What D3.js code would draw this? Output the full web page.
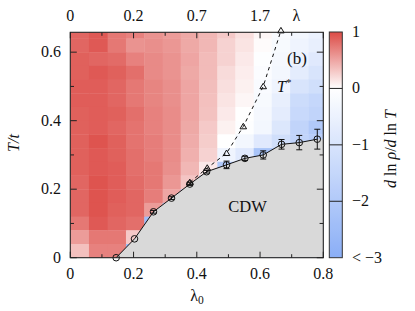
<!DOCTYPE html>
<html><head><meta charset="utf-8">
<script src="https://cdn.jsdelivr.net/npm/d3@7"></script>
<style>
html,body{margin:0;padding:0;background:#fff;}
svg{display:block;}
</style></head>
<body><svg id="c" width="415" height="311"></svg>
<script>
// ---------- data ----------
const lambda0Edges = [0, 0.059, 0.118, 0.176, 0.234, 0.292, 0.349, 0.407, 0.465, 0.522, 0.580, 0.637, 0.695, 0.753, 0.8];
// T bins listed from top to bottom
const tBinsTop = [0.658, 0.64, 0.60, 0.56, 0.52, 0.48, 0.44, 0.40, 0.36, 0.32, 0.28, 0.24, 0.20, 0.16, 0.12, 0.08, 0.04];
const tBinsBottom = [0.64, 0.60, 0.56, 0.52, 0.48, 0.44, 0.40, 0.36, 0.32, 0.28, 0.24, 0.20, 0.16, 0.12, 0.08, 0.04, 0.0];
const heatRows = [
  [0.85, 0.92, 0.75, 0.70, 0.60, 0.55, 0.48, 0.40, 0.30, 0.18, 0.05, -0.15, -0.30, -0.50],
  [0.85, 0.92, 0.75, 0.60, 0.62, 0.58, 0.48, 0.40, 0.25, 0.15, 0.02, -0.20, -0.40, -0.60],
  [0.88, 0.85, 0.82, 0.70, 0.65, 0.60, 0.50, 0.38, 0.25, 0.12, -0.05, -0.25, -0.50, -0.80],
  [0.88, 0.92, 0.88, 0.80, 0.65, 0.60, 0.48, 0.38, 0.20, 0.10, -0.10, -0.30, -0.70, -1.00],
  [0.90, 0.90, 0.85, 0.75, 0.68, 0.62, 0.50, 0.36, 0.18, 0.08, -0.15, -0.40, -1.00, -1.20],
  [0.90, 0.90, 0.85, 0.75, 0.68, 0.62, 0.50, 0.35, 0.15, 0.05, -0.20, -0.60, -1.30, -1.50],
  [0.88, 0.90, 0.88, 0.80, 0.70, 0.64, 0.50, 0.34, 0.12, 0.00, -0.25, -0.70, -1.40, -1.60],
  [0.88, 0.90, 0.85, 0.78, 0.70, 0.64, 0.48, 0.30, 0.08, -0.05, -0.30, -0.90, -1.60, -2.00],
  [0.88, 0.95, 0.88, 0.78, 0.72, 0.64, 0.46, 0.28, 0.00, -0.30, -0.80, -1.20, -1.60, -1.80],
  [0.88, 0.92, 0.88, 0.80, 0.72, 0.64, 0.44, 0.25, -0.40, -0.80, -2.20, -2.00, -2.00, -2.20],
  [0.88, 0.92, 0.90, 0.80, 0.75, 0.62, 0.40, 0.12, -2.00, -2.00, -2.20, -2.20, -2.20, -2.20],
  [0.85, 0.95, 0.90, 0.82, 0.75, 0.58, 0.32, -1.50, -2.00, -2.00, -2.00, -2.00, -2.00, -2.00],
  [0.85, 0.95, 0.90, 0.85, 0.72, 0.50, -2.00, -2.00, -2.00, -2.00, -2.00, -2.00, -2.00, -2.00],
  [0.85, 0.95, 0.88, 0.85, 0.55, -2.00, -2.00, -2.00, -2.00, -2.00, -2.00, -2.00, -2.00, -2.00],
  [0.75, 0.92, 0.85, 0.80, -2.50, -2.50, -2.50, -2.50, -2.50, -2.50, -2.50, -2.50, -2.50, -2.50],
  [0.55, 0.75, 0.75, 0.30, -2.50, -2.50, -2.50, -2.50, -2.50, -2.50, -2.50, -2.50, -2.50, -2.50],
  [0.35, 0.70, 0.70, -2.50, -2.50, -2.50, -2.50, -2.50, -2.50, -2.50, -2.50, -2.50, -2.50, -2.50]
];
// CDW transition (circles with error bars)
const tcLambda0 = [0.145, 0.203, 0.263, 0.320, 0.378, 0.431, 0.494, 0.552, 0.610, 0.668, 0.724, 0.781];
const tcT       = [0.000, 0.055, 0.134, 0.174, 0.215, 0.251, 0.271, 0.290, 0.300, 0.331, 0.336, 0.346];
const tcErr     = [0.000, 0.003, 0.004, 0.004, 0.004, 0.004, 0.011, 0.006, 0.012, 0.014, 0.021, 0.029];
// T* crossover (triangles)
const tsLambda0 = [0.378, 0.433, 0.494, 0.547, 0.610, 0.666];
const tsT       = [0.220, 0.262, 0.305, 0.383, 0.500, 0.663];
// ticks
const xTicksMajor = [0, 0.2, 0.4, 0.6, 0.8];
const xTicksMinor = [0.1, 0.3, 0.5, 0.7];
const yTicksMajor = [0, 0.2, 0.4, 0.6];
const yTicksMinor = [0.1, 0.3, 0.5];
const topTickPos = [0, 0.2, 0.4, 0.6];
const topTickLabels = ["0", "0.2", "0.7", "1.7"];
const cbTicks = [1, 0, -1, -2, -3];
const cbTickLabels = ["1", "0", "\u22121", "\u22122", "< \u22123"];

// ---------- drawing ----------
const FONT = "Liberation Serif";
const svg = d3.select("#c");
const L = 70.3, R = 323.3, T0 = 32.3, B = 257.7;
const x = d3.scaleLinear().domain([0, 0.8]).range([L, R]);
const y = d3.scaleLinear().domain([0, 0.658]).range([B, T0]);
const red = d3.interpolateRgb("#ffffff", "#dc4b46");
const blue = d3.interpolateRgb("#ffffff", "#8aaef6");
const color = v => v >= 0 ? red(Math.min(v, 1)) : blue(Math.min(-v / 3, 1));

svg.append("defs").append("clipPath").attr("id", "clip")
  .append("rect").attr("x", L).attr("y", T0).attr("width", R - L).attr("height", B - T0);

const cells = [];
heatRows.forEach((row, ri) => row.forEach((v, ci) => cells.push({
  x0: lambda0Edges[ci], x1: lambda0Edges[ci + 1], t0: tBinsBottom[ri], t1: tBinsTop[ri], v
})));
const gHeat = svg.append("g").attr("clip-path", "url(#clip)");
gHeat.selectAll("rect").data(cells).join("rect")
  .attr("x", d => x(d.x0)).attr("y", d => y(d.t1))
  .attr("width", d => x(d.x1) - x(d.x0) + 0.4).attr("height", d => y(d.t0) - y(d.t1) + 0.4)
  .attr("fill", d => color(d.v));

// CDW region
const tcPts = tcLambda0.map((l, i) => [l, tcT[i]]);
const poly = [[tcLambda0[0], 0], ...tcPts, [0.8, tcT[tcT.length - 1]], [0.8, 0]];
gHeat.append("path")
  .attr("d", d3.line().x(d => x(d[0])).y(d => y(d[1]))(poly) + "Z")
  .attr("fill", "#d9d9d9");

// solid line
gHeat.append("path").attr("d", d3.line().x(d => x(d[0])).y(d => y(d[1]))(tcPts))
  .attr("fill", "none").attr("stroke", "#111").attr("stroke-width", 1);

// error bars
const gErr = svg.append("g").attr("stroke", "#111").attr("stroke-width", 1);
tcPts.forEach((p, i) => {
  const e = tcErr[i];
  if (e <= 0.003) return;
  const cx = x(p[0]), y1 = y(p[1] - e), y2 = y(p[1] + e);
  gErr.append("line").attr("x1", cx).attr("x2", cx).attr("y1", y1).attr("y2", y2);
  gErr.append("line").attr("x1", cx - 3).attr("x2", cx + 3).attr("y1", y1).attr("y2", y1);
  gErr.append("line").attr("x1", cx - 3).attr("x2", cx + 3).attr("y1", y2).attr("y2", y2);
});
// circles
svg.append("g").selectAll("circle").data(tcPts).join("circle")
  .attr("cx", d => x(d[0])).attr("cy", d => y(d[1])).attr("r", 3.3)
  .attr("fill", "none").attr("stroke", "#111").attr("stroke-width", 1);

// dashed T* line
const tsPts = tsLambda0.map((l, i) => [l, tsT[i]]);
svg.append("path").attr("d", d3.line().x(d => x(d[0])).y(d => y(d[1]))(tsPts))
  .attr("fill", "none").attr("stroke", "#111").attr("stroke-width", 1).attr("stroke-dasharray", "3.5,3.5");
svg.append("g").selectAll("path").data(tsPts).join("path")
  .attr("d", d => {
    const cx = x(d[0]), cy = y(d[1]);
    return `M${cx - 3.3},${cy + 2.3}L${cx + 3.3},${cy + 2.3}L${cx},${cy - 3.2}Z`;
  })
  .attr("fill", "none").attr("stroke", "#111").attr("stroke-width", 1);

// frame
svg.append("rect").attr("x", L).attr("y", T0).attr("width", R - L).attr("height", B - T0)
  .attr("fill", "none").attr("stroke", "#222").attr("stroke-width", 1.1);

// ticks (inward)
const gT = svg.append("g").attr("stroke", "#222").attr("stroke-width", 1);
xTicksMajor.forEach(v => {
  gT.append("line").attr("x1", x(v)).attr("x2", x(v)).attr("y1", B).attr("y2", B - 6);
  gT.append("line").attr("x1", x(v)).attr("x2", x(v)).attr("y1", T0).attr("y2", T0 + 6);
});
xTicksMinor.forEach(v => {
  gT.append("line").attr("x1", x(v)).attr("x2", x(v)).attr("y1", B).attr("y2", B - 3.5);
  gT.append("line").attr("x1", x(v)).attr("x2", x(v)).attr("y1", T0).attr("y2", T0 + 3.5);
});
yTicksMajor.forEach(v => {
  gT.append("line").attr("x1", L).attr("x2", L + 6.5).attr("y1", y(v)).attr("y2", y(v));
  gT.append("line").attr("x1", R).attr("x2", R - 6.5).attr("y1", y(v)).attr("y2", y(v));
});
yTicksMinor.forEach(v => {
  gT.append("line").attr("x1", L).attr("x2", L + 3.7).attr("y1", y(v)).attr("y2", y(v));
  gT.append("line").attr("x1", R).attr("x2", R - 3.7).attr("y1", y(v)).attr("y2", y(v));
});

const fs = 16;
const txt = (s, xx, yy, anchor) => svg.append("text").attr("x", xx).attr("y", yy)
  .attr("font-family", FONT)
  .attr("text-anchor", anchor || "middle").attr("font-size", fs).attr("fill", "#111").text(s);

xTicksMajor.forEach(v => txt(String(v), x(v), 278.5));
yTicksMajor.forEach(v => txt(String(v), 61, y(v) + 5.3, "end"));
topTickPos.forEach((v, i) => txt(topTickLabels[i], x(v), 21.2));

// top axis label lambda
txt("\u03bb", x(0.715), 21.2);
// bottom axis label lambda_0
const xl = svg.append("text").attr("x", 197).attr("y", 301).attr("text-anchor", "middle")
  .attr("font-family", FONT).attr("font-size", fs).attr("fill", "#111");
xl.append("tspan").text("\u03bb");
xl.append("tspan").attr("font-size", 11.5).attr("dy", 3).text("0");
// left axis label T/t
svg.append("text").attr("transform", "translate(19,143) rotate(-90)")
  .attr("font-family", FONT)
  .attr("text-anchor", "middle").attr("font-size", fs).attr("font-style", "italic")
  .attr("fill", "#111").text("T/t");

// annotations
svg.append("text").attr("x", 287).attr("y", 63.5).attr("font-family", FONT)
  .attr("font-size", 17).attr("fill", "#111").text("(b)");
const ts = svg.append("text").attr("x", 277).attr("y", 91.5).attr("font-family", FONT)
  .attr("font-size", fs).attr("fill", "#111");
ts.append("tspan").attr("font-style", "italic").text("T");
ts.append("tspan").attr("font-size", 11).attr("dy", -6).text("*");
svg.append("text").attr("x", 247.5).attr("y", 211.7).attr("text-anchor", "middle")
  .attr("font-family", FONT).attr("font-size", 16.5).attr("fill", "#111").text("CDW");

// colorbar
const cbL = 329.3, cbW = 13;
const cy = d3.scaleLinear().domain([-3, 1]).range([B, 32]);
const grad = svg.select("defs").append("linearGradient").attr("id", "cbg")
  .attr("x1", 0).attr("x2", 0).attr("y1", 1).attr("y2", 0);
d3.range(0, 41).forEach(i => {
  const v = -3 + i * 0.1;
  grad.append("stop").attr("offset", (i / 40)).attr("stop-color", color(v));
});
svg.append("rect").attr("x", cbL).attr("y", cy(1)).attr("width", cbW).attr("height", cy(-3) - cy(1))
  .attr("fill", "url(#cbg)").attr("stroke", "#333").attr("stroke-width", 1);
cbTicks.forEach((v, i) => {
  if (v > -3 && v < 1) {
    svg.append("line").attr("x1", cbL).attr("x2", cbL + cbW).attr("y1", cy(v)).attr("y2", cy(v))
      .attr("stroke", "#222").attr("stroke-width", 1);
  }
  txt(cbTickLabels[i], 352, cy(v) + 5, "start");
});
// colorbar label
const cl = svg.append("text").attr("transform", "translate(396,149) rotate(-90)")
  .attr("font-family", FONT)
  .attr("text-anchor", "middle").attr("font-size", fs).attr("fill", "#111");
cl.append("tspan").attr("font-style", "italic").text("d");
cl.append("tspan").text(" ln ");
cl.append("tspan").attr("font-style", "italic").text("\u03c1");
cl.append("tspan").text("/");
cl.append("tspan").attr("font-style", "italic").text("d");
cl.append("tspan").text(" ln ");
cl.append("tspan").attr("font-style", "italic").text("T");
</script></body></html>
